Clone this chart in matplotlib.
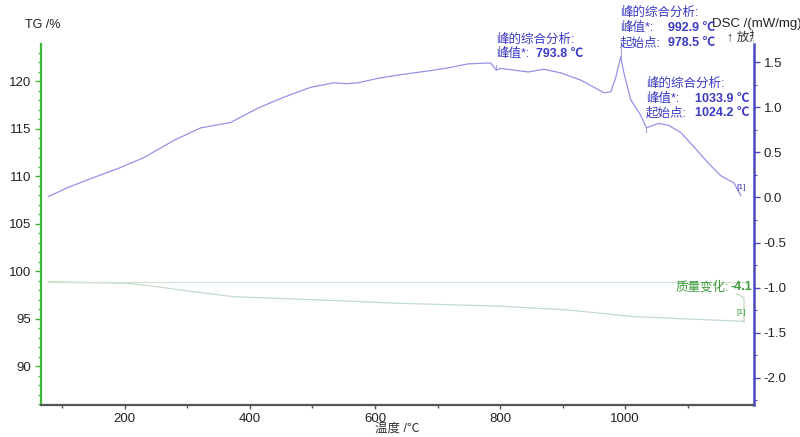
import matplotlib
matplotlib.use("Agg")
import matplotlib.pyplot as plt
from matplotlib.ticker import FixedLocator
from matplotlib.transforms import Bbox

plt.rcParams["font.family"] = ["Liberation Sans", "Noto Sans CJK SC", "DejaVu Sans"]

# DSC curve (mW/mg)
dsc_t = [78, 109, 150, 189, 230, 278, 321, 369, 413, 454, 497, 534, 555, 573, 605, 641,
         694, 720, 749, 785, 793.8, 801, 845, 870, 897, 929, 950, 966, 977, 985, 992.9,
         998, 1009, 1025, 1033.9, 1053, 1069, 1089, 1110, 1133, 1153, 1174, 1185]
dsc_v = [0.01, 0.11, 0.22, 0.32, 0.44, 0.63, 0.77, 0.83, 0.99, 1.11, 1.22, 1.27, 1.26,
         1.27, 1.32, 1.36, 1.41, 1.44, 1.48, 1.49, 1.41, 1.43, 1.39, 1.42, 1.38, 1.30,
         1.22, 1.16, 1.17, 1.33, 1.56, 1.38, 1.08, 0.91, 0.77, 0.82, 0.80, 0.72, 0.56,
         0.38, 0.24, 0.16, 0.02]

# TG curve (%)
tg_t = [78, 129, 205, 246, 301, 374, 454, 534, 641, 801, 909, 1014, 1121, 1190]
tg_v = [98.9, 98.8, 98.7, 98.4, 97.9, 97.3, 97.1, 96.9, 96.6, 96.3, 95.9, 95.2, 94.9, 94.7]

tg_start = 98.85
t_end = 1190

x_major = [200, 400, 600, 800, 1000]
x_minor = [100, 300, 500, 700, 900, 1100]
tg_ticks = [90, 95, 100, 105, 110, 115, 120]
dsc_ticks = [-2.0, -1.5, -1.0, -0.5, 0.0, 0.5, 1.0, 1.5]

BLUE_TXT = "#3b3bc4"
GREEN_TXT = "#3f9a3f"

fig = plt.figure(figsize=(8, 4.37), dpi=100)
ax = fig.add_axes([41 / 800, 1 - 405 / 437, 713 / 800, 361 / 437])
ax2 = ax.twinx()

ax.plot(tg_t, tg_v, color="#c4dccb", lw=0.9)
ax.plot([tg_t[0], t_end], [tg_start, tg_start], color="#cfe5cf", lw=0.9)
ax.plot([1178, t_end, t_end], [97.6, 97.2, 94.6], color="#b8d4b8", lw=0.8)
ax2.plot(dsc_t, dsc_v, color="#9393e6", lw=0.9)
for t, y0, y1 in [(793.8, 1.41, 1.47), (992.9, 1.56, 1.66), (1033.9, 0.77, 0.73)]:
    ax2.plot([t, t], [y0, y1], color="#a0a0e6", lw=0.7)

ax.set_xlim(66, 1206)
ax.set_ylim(85.9, 123.9)
ax2.set_ylim(-2.3, 1.7)

ax.set_xticks(x_major)
ax.xaxis.set_minor_locator(FixedLocator(x_minor))
ax.set_yticks(tg_ticks)
ax.yaxis.set_minor_locator(FixedLocator(range(86, 124)))
ax2.set_yticks(dsc_ticks)
ax2.set_yticklabels([f"{v:.1f}" for v in dsc_ticks])
ax2.yaxis.set_minor_locator(FixedLocator([-2.25, -1.75, -1.25, -0.75, -0.25, 0.25, 0.75, 1.25]))

for a in (ax, ax2):
    a.spines["top"].set_visible(False)
ax2.spines["left"].set_visible(False)
ax2.spines["bottom"].set_visible(False)
ax.spines["right"].set_visible(False)
ax.spines["left"].set_color("#3db83d")
ax.spines["left"].set_linewidth(1.6)
ax.spines["bottom"].set_color("#555555")
ax.spines["bottom"].set_linewidth(1.6)
ax2.spines["right"].set_color("#4a4ac0")
ax2.spines["right"].set_linewidth(1.8)

ax.tick_params(axis="x", which="major", length=3, width=1, color="#555555",
               labelsize=9.5, labelcolor="#222222", pad=3)
ax.tick_params(axis="x", which="minor", length=2, width=1, color="#555555")
ax.tick_params(axis="y", which="major", length=4, width=1, color="#3db83d",
               labelsize=9.5, labelcolor="#222222", pad=3)
ax.tick_params(axis="y", which="minor", length=2, width=0.8, color="#3db83d")
ax2.tick_params(axis="y", which="major", length=4, width=1, color="#4a4ac0",
                labelsize=9.5, labelcolor="#222222", pad=3)
ax2.tick_params(axis="y", which="minor", length=2, width=0.8, color="#4a4ac0")


def ftxt(x, y, s, **kw):
    return fig.text(x / 800, 1 - y / 437, s, va="center", **kw)


ftxt(25, 25, "TG /%", fontsize=9, color="#222222")
ftxt(712, 24, "DSC /(mW/mg)", fontsize=9.5, color="#222222")
arrow = ftxt(727, 38, "↑ 放热", fontsize=9, color="#333333")
arrow.set_clip_box(Bbox.from_extents(0, 0, 754, 437))
ftxt(397, 429, "温度 /℃", fontsize=9, color="#333333", ha="center")

# peak annotations
ann_kw = dict(fontsize=9, color=BLUE_TXT)
ftxt(496, 40, "峰的综合分析:", **ann_kw)
ftxt(496, 54, "峰值*:", **ann_kw)
ftxt(536, 54, "793.8 ℃", fontweight="bold", **ann_kw)

ftxt(620, 13, "峰的综合分析:", **ann_kw)
ftxt(620, 28, "峰值*:", **ann_kw)
ftxt(668, 28, "992.9 ℃", fontweight="bold", **ann_kw)
ftxt(620, 43, "起始点:", **ann_kw)
ftxt(668, 43, "978.5 ℃", fontweight="bold", **ann_kw)

ftxt(646, 84, "峰的综合分析:", **ann_kw)
ftxt(646, 99, "峰值*:", **ann_kw)
ftxt(695, 99, "1033.9 ℃", fontweight="bold", **ann_kw)
ftxt(646, 113, "起始点:", **ann_kw)
ftxt(695, 113, "1024.2 ℃", fontweight="bold", **ann_kw)

ftxt(741, 187, "[1]", fontsize=6, color=BLUE_TXT, ha="center")
ftxt(741, 312, "[1]", fontsize=6, color=GREEN_TXT, ha="center")
ftxt(729, 287, "质量变化:", fontsize=9, color=GREEN_TXT, ha="right")
ftxt(752, 287, "-4.1", fontsize=9, color=GREEN_TXT, fontweight="bold", ha="right")

fig.savefig("out.png", dpi=100)
